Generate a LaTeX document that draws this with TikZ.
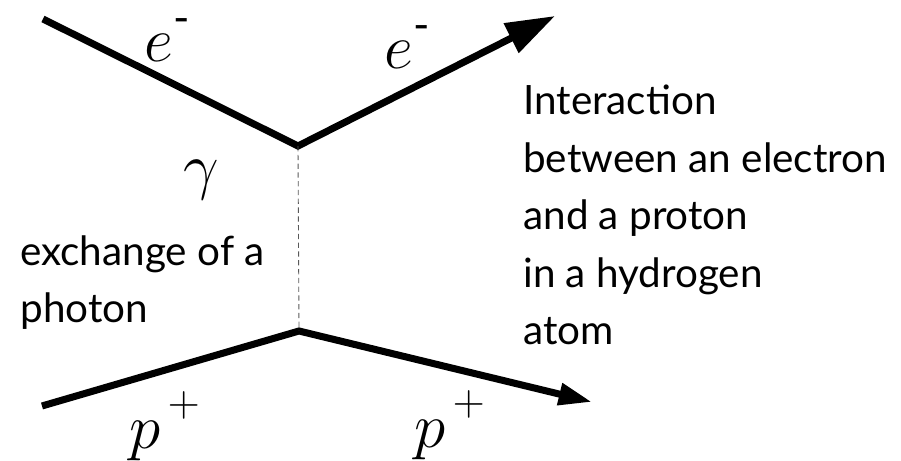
\RequirePackage{fix-cm}
\documentclass[tikz,border=0pt]{standalone}
\usepackage{amsmath}
\usepackage{fontspec}
\setmainfont{Lato}
\usetikzlibrary{arrows.meta}
\begin{document}
\begin{tikzpicture}[
    particle/.style={line width=4pt, line join=miter},
    photon/.style={line width=0.5pt, gray!70!black, dash pattern=on 3pt off 2pt},
    sym/.style={font=\fontsize{36}{40}\selectfont, inner sep=0pt},
    note/.style={font=\fontsize{23}{32.7}\selectfont, align=left, anchor=north west, inner sep=0pt}
  ]
      \useasboundingbox (0,0) rectangle (18.02,9.22);
      \coordinate (ein) at (0.86,8.84);
      \coordinate (vtop) at (5.96,6.30);
      \coordinate (eout) at (11.10,8.90);
      \coordinate (pin) at (0.84,1.10);
      \coordinate (vbot) at (5.98,2.60);
      \coordinate (pout) at (11.84,1.18);
      \draw[particle, -{Triangle[length=28pt,width=18pt]}] (ein) -- (vtop) -- (eout);
      \draw[particle, -{Triangle[length=19pt,width=12pt]}] (pin) -- (vbot) -- (pout);
      \draw[photon] (vtop) -- (vbot);
      % particle labels
      \node[sym] (ein-l) at (3.36,8.42) {$e^{\text{\raisebox{3pt}{-}}}$};
      \node[sym] (eout-l) at (8.16,8.28) {$e^{\text{\raisebox{3pt}{-}}}$};
      \node[sym] (gamma-l) at (4.02,5.62) {$\gamma$};
      \node[sym] (pin-l) at (3.30,0.70) {$p^{\,\raisebox{5pt}{$\scriptstyle +$}}$};
      \node[sym] (pout-l) at (9.00,0.72) {$p^{\,\raisebox{5pt}{$\scriptstyle +$}}$};
      % explanations
      \node[note] (exch) at (0.40,4.52) {exchange of a\\photon};
      \node[note] (inter) at (10.46,7.52) {Interaction\\between an electron\\and a proton\\in a hydrogen\\atom};
    \end{tikzpicture}
\end{document}
